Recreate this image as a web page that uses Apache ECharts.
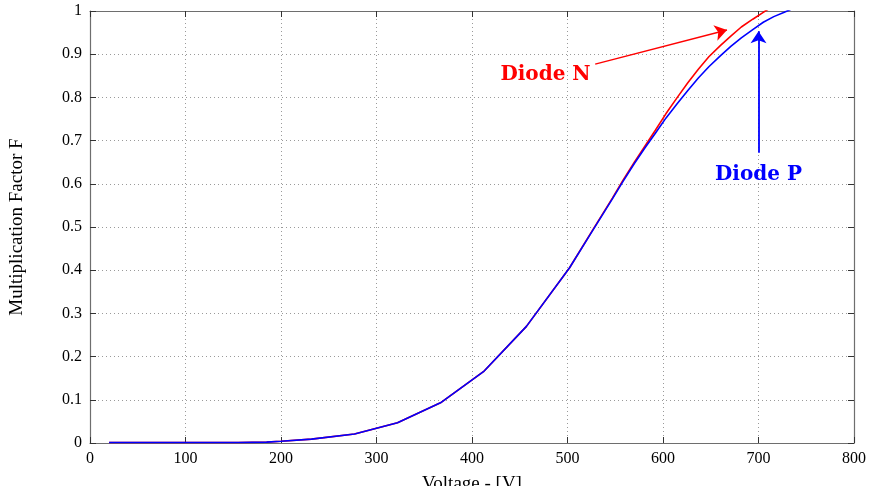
<!DOCTYPE html>
<html>
<head>
<meta charset="utf-8">
<script src="https://cdn.jsdelivr.net/npm/echarts@6/dist/echarts.min.js"></script>
<style>
  html, body { margin: 0; padding: 0; background: #fff; }
  #chart { width: 870px; height: 486px; }
</style>
</head>
<body>
<div id="chart"></div>
<script>
// Voltage samples (V) and multiplication factor for each diode
const voltageP = [20, 65, 110, 155, 185, 200, 232, 277, 322, 367, 412, 457, 502, 525, 547, 558, 570, 581, 592, 603, 615, 626, 637, 648, 660, 671, 682, 694, 705, 716, 727, 740];
const factorP  = [0.001, 0.001, 0.001, 0.001, 0.002, 0.004, 0.009, 0.021, 0.047, 0.093, 0.165, 0.270, 0.405, 0.487, 0.565, 0.605, 0.647, 0.683, 0.717, 0.752, 0.786, 0.816, 0.845, 0.871, 0.896, 0.918, 0.938, 0.957, 0.974, 0.987, 0.997, 1.01];

const voltageN = [20, 65, 110, 155, 185, 200, 232, 277, 322, 367, 412, 457, 502, 525, 547, 558, 570, 581, 592, 603, 615, 626, 637, 648, 660, 671, 682, 694, 705, 716, 727];
const factorN  = [0.001, 0.001, 0.001, 0.001, 0.002, 0.004, 0.009, 0.021, 0.047, 0.093, 0.165, 0.270, 0.405, 0.488, 0.567, 0.608, 0.650, 0.687, 0.724, 0.762, 0.800, 0.834, 0.865, 0.894, 0.920, 0.942, 0.963, 0.981, 0.997, 1.012, 1.027];

const xTicks = [0, 100, 200, 300, 400, 500, 600, 700, 800];
const yTicks = [0, 0.1, 0.2, 0.3, 0.4, 0.5, 0.6, 0.7, 0.8, 0.9, 1];

// Annotation anchors in data units
const labelN = { text: 'Diode N', at: [477, 0.852] };
const arrowN = { from: [529, 0.877], to: [667, 0.956] };
const labelP = { text: 'Diode P', at: [700, 0.620] };
const arrowP = { from: [700, 0.672], to: [700, 0.953] };

const pair = (xs, ys) => xs.map((x, i) => [x, ys[i]]);

const serif = 'Liberation Serif';
const frameColor = '#6e6e6e';
const gridLine = { show: true, lineStyle: { color: '#9a9a9a', type: [1, 3], width: 1 } };

const chart = echarts.init(document.getElementById('chart'));

chart.setOption({
  backgroundColor: '#fff',
  animation: false,
  grid: { left: 90, right: 16, top: 11, bottom: 43, containLabel: false, outerBoundsMode: 'none' },
  xAxis: [
    {
      type: 'value', min: xTicks[0], max: xTicks[xTicks.length - 1], interval: 100,
      name: 'Voltage - [V]', nameLocation: 'middle', nameGap: 32,
      nameTextStyle: { fontFamily: serif, fontSize: 19, color: '#000' },
      axisLine: { show: true, onZero: false, lineStyle: { color: frameColor, width: 1.2 } },
      axisTick: { show: true, inside: true, length: 6, lineStyle: { color: '#333' } },
      axisLabel: { fontFamily: serif, fontSize: 16, color: '#000', margin: 8 },
      splitLine: gridLine
    },
    {
      type: 'value', position: 'top', min: xTicks[0], max: xTicks[xTicks.length - 1], interval: 100,
      axisLine: { show: true, onZero: false, lineStyle: { color: frameColor, width: 1.2 } },
      axisTick: { show: true, inside: true, length: 6, lineStyle: { color: '#333' } },
      axisLabel: { show: false }, splitLine: { show: false }
    }
  ],
  yAxis: [
    {
      type: 'value', min: yTicks[0], max: yTicks[yTicks.length - 1], interval: 0.1,
      name: 'Multiplication Factor F', nameLocation: 'middle', nameGap: 63,
      nameTextStyle: { fontFamily: serif, fontSize: 19, color: '#000' },
      axisLine: { show: true, onZero: false, lineStyle: { color: frameColor, width: 1.2 } },
      axisTick: { show: true, inside: true, length: 6, lineStyle: { color: '#333' } },
      axisLabel: {
        fontFamily: serif, fontSize: 16, color: '#000', margin: 8,
        formatter: v => String(Math.round(v * 10) / 10)
      },
      splitLine: gridLine
    },
    {
      type: 'value', position: 'right', min: yTicks[0], max: yTicks[yTicks.length - 1], interval: 0.1,
      axisLine: { show: true, onZero: false, lineStyle: { color: frameColor, width: 1.2 } },
      axisTick: { show: true, inside: true, length: 6, lineStyle: { color: '#333' } },
      axisLabel: { show: false }, splitLine: { show: false }
    }
  ],
  series: [
    {
      name: 'Diode N', type: 'line', data: pair(voltageN, factorN),
      showSymbol: false, smooth: false, clip: true,
      lineStyle: { color: '#ff0000', width: 1.6 },
      markLine: {
        silent: true, symbol: ['none', 'arrow'], symbolSize: 12,
        label: { show: false },
        lineStyle: { color: '#ff0000', width: 1.4, type: 'solid' },
        data: [[{ coord: arrowN.from }, { coord: arrowN.to }]]
      },
      markPoint: {
        silent: true, symbol: 'circle', symbolSize: 0,
        label: {
          show: true, position: 'inside', formatter: labelN.text,
          fontFamily: 'DejaVu Serif', fontWeight: 'bold', fontSize: 20, color: '#ff0000'
        },
        data: [{ coord: labelN.at }]
      }
    },
    {
      name: 'Diode P', type: 'line', data: pair(voltageP, factorP),
      showSymbol: false, smooth: false, clip: true,
      lineStyle: { color: '#0000ff', width: 1.6 },
      markLine: {
        silent: true, symbol: ['none', 'arrow'], symbolSize: 12,
        label: { show: false },
        lineStyle: { color: '#0000ff', width: 1.8, type: 'solid' },
        data: [[{ coord: arrowP.from }, { coord: arrowP.to }]]
      },
      markPoint: {
        silent: true, symbol: 'circle', symbolSize: 0,
        label: {
          show: true, position: 'inside', formatter: labelP.text,
          fontFamily: 'DejaVu Serif', fontWeight: 'bold', fontSize: 20, color: '#0000ff'
        },
        data: [{ coord: labelP.at }]
      }
    }
  ]
});
</script>
</body>
</html>
